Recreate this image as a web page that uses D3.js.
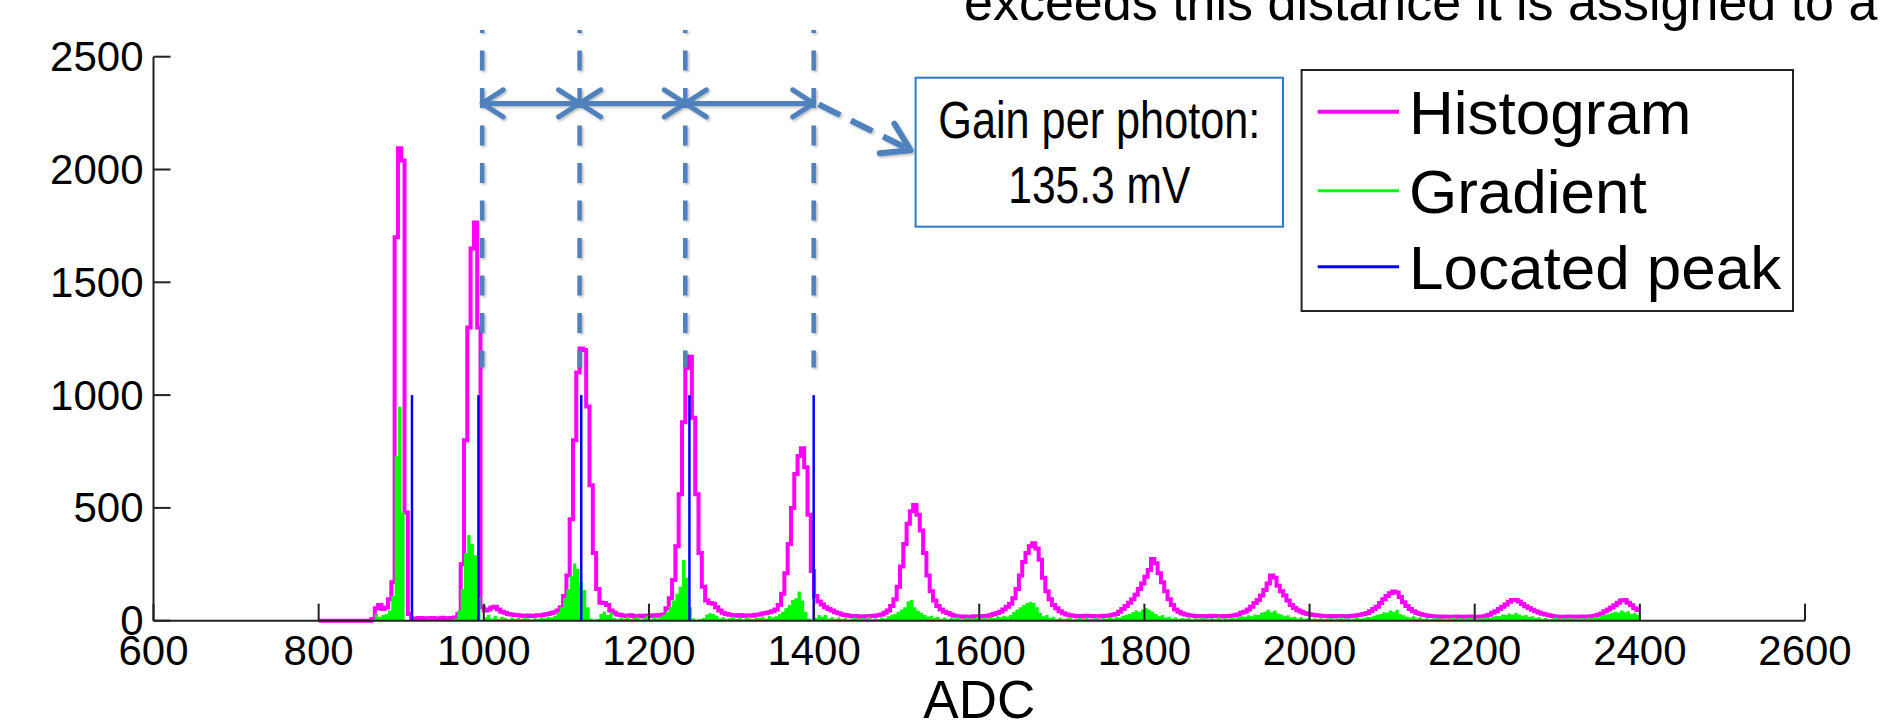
<!DOCTYPE html>
<html>
<head>
<meta charset="utf-8">
<script src="https://cdn.jsdelivr.net/npm/d3@7"></script>
<style>
  html, body { margin: 0; padding: 0; background: #fff; overflow: hidden; }
  svg { display: block; font-family: "Liberation Sans", Arial, Helvetica, sans-serif; }
</style>
</head>
<body>
<svg id="chart" width="1882" height="723"></svg>
<script>
// ---- Data ---------------------------------------------------------------
// Histogram bins: 4 ADC wide, starting at ADC 800 (ten bins = 40 ADC per row)
const binStart = 800;
const binWidth = 4;

const histCounts = [
  0,0,0,0,0,0,0,0,0,0,                       // 800
  0,0,0,0,0,0,8,55,70,52,                    // 840
  58,95,170,1700,2094,2040,480,30,10,8,      // 880
  12,9,11,10,12,9,10,13,11,10,               // 920
  12,14,30,250,800,1300,1650,1765,1300,60,   // 960
  45,50,58,62,50,40,35,30,28,25,             // 1000
  24,22,20,23,21,22,24,24,28,30,             // 1040
  34,38,45,60,110,200,450,800,1100,1207,     // 1080
  1200,950,600,300,140,80,78,70,45,35,       // 1120
  28,25,22,20,24,21,19,22,20,23,             // 1160
  21,24,22,25,28,55,100,180,330,560,         // 1200
  880,1120,1170,900,560,300,150,90,78,75,    // 1240
  60,45,35,30,26,24,22,25,21,23,             // 1280
  24,22,26,28,32,34,38,42,50,70,             // 1320
  120,210,340,500,650,730,764,680,470,220,   // 1360
  110,85,72,60,52,45,38,33,28,25,            // 1400
  22,20,21,19,18,20,19,21,22,24,             // 1440
  28,35,45,65,95,150,240,340,430,485,        // 1480
  513,470,400,300,200,130,90,65,50,40,       // 1520
  34,28,22,20,18,19,17,18,20,18,             // 1560
  19,21,20,24,30,34,40,50,62,75,             // 1600
  100,140,200,260,300,330,343,320,270,190,   // 1640
  130,95,70,55,42,33,27,24,22,20,            // 1680
  21,19,22,20,21,19,20,22,21,23,             // 1720
  26,30,40,52,65,80,95,115,140,165,          // 1760
  195,225,274,255,210,170,130,95,70,50,      // 1800
  40,32,27,24,22,21,20,21,19,20,             // 1840
  22,21,20,19,21,20,22,24,28,35,             // 1880
  40,50,62,78,92,112,136,165,200,190,        // 1920
  155,130,112,90,70,56,46,40,34,30,          // 1960
  27,25,23,22,21,20,21,19,20,21,             // 2000
  20,19,21,22,24,26,30,34,42,52,             // 2040
  62,78,95,110,122,129,125,105,82,65,        // 2080
  52,42,35,30,26,23,21,20,19,18,             // 2120
  19,18,17,18,19,18,17,18,19,18,             // 2160
  17,18,19,22,26,35,42,52,62,72,             // 2200
  84,92,92,85,74,64,56,49,42,36,             // 2240
  31,27,24,21,19,18,17,18,19,18,             // 2280
  17,18,19,18,19,20,22,26,32,42,             // 2320
  50,58,68,80,90,92,80,68,55,47              // 2360
];

const gradientCounts = [
  0,0,0,0,0,0,0,0,0,0,                       // 800
  0,0,0,0,0,0,5,30,18,25,                    // 840
  30,45,110,730,948,480,0,0,2,0,             // 880
  3,0,2,4,1,0,3,2,0,4,                       // 920
  5,10,45,140,300,380,340,290,110,0,         // 960
  15,25,10,22,8,18,12,6,14,9,                // 1000
  12,7,16,10,5,13,8,15,11,18,                // 1040
  14,22,35,60,100,140,200,254,230,170,       // 1080
  136,60,10,4,8,30,40,25,38,12,              // 1120
  6,14,9,18,7,12,16,5,11,20,                 // 1160
  8,15,10,18,25,40,62,90,120,150,            // 1200
  269,190,60,10,4,8,12,28,33,30,             // 1240
  22,10,15,6,12,18,8,14,5,16,                // 1280
  10,7,15,12,18,9,22,15,20,30,               // 1320
  40,55,70,92,100,129,90,40,10,4,            // 1360
  12,25,18,25,10,15,8,14,6,12,               // 1400
  5,10,14,7,12,9,16,6,11,8,                  // 1440
  14,10,20,26,30,40,50,60,85,92,             // 1480
  60,45,35,25,18,22,12,18,8,14,              // 1520
  6,12,9,15,5,10,13,7,11,16,                 // 1560
  8,14,10,17,12,20,15,22,18,25,              // 1600
  40,50,60,70,78,84,80,60,35,20,             // 1640
  25,12,18,8,14,6,11,15,5,9,                 // 1680
  12,6,14,8,10,15,7,12,9,16,                 // 1720
  10,18,14,22,26,30,38,45,40,50,             // 1760
  55,48,40,30,20,25,14,18,10,15,             // 1800
  7,12,9,14,6,11,8,13,10,6,                  // 1840
  12,8,15,6,11,9,14,10,16,20,                // 1880
  18,24,20,28,25,35,40,48,38,45,             // 1920
  32,28,20,24,14,18,10,15,8,12,              // 1960
  6,11,8,13,7,10,12,6,9,14,                  // 2000
  8,12,6,10,15,9,13,18,16,22,                // 2040
  26,30,38,35,45,40,48,30,24,18,             // 2080
  14,20,10,15,8,12,6,10,13,7,                // 2120
  11,6,9,14,8,12,7,10,13,9,                  // 2160
  6,11,9,14,12,18,22,20,28,25,               // 2200
  32,26,35,28,22,25,16,20,12,15,             // 2240
  8,12,6,10,14,7,11,9,13,8,                  // 2280
  10,6,12,9,15,11,18,14,22,26,               // 2320
  30,34,40,36,45,38,42,30,35,25              // 2360
];

// Peak positions found by the algorithm, drawn as fixed-height markers
const peakAdc = [913, 993.5, 1118, 1249, 1399.5];
const peakMarkerHeight = 1000;

// Photon-peak spacing guides (ADC) and the gain they give
const spacingAdc = [998, 1116, 1244, 1399.5];
const guideRange = [1122, 2618];   // vertical extent of the guides, in counts
const arrowLevel = 2293;           // height of the spacing arrows, in counts
const gainLines = ["Gain per photon:", "135.3 mV"];

const xTicks = [600, 800, 1000, 1200, 1400, 1600, 1800, 2000, 2200, 2400, 2600];
const yTicks = [0, 500, 1000, 1500, 2000, 2500];

const legendLabels = ["Histogram", "Gradient", "Located peak"];
const legendColors = ["#ff00ff", "#00ff00", "#0000ff"];
const legendWidths = [4, 3, 3];

const noteText = "exceeds this distance it is assigned to a";

// ---- Layout -------------------------------------------------------------
const svg = d3.select("#chart");
const x = d3.scaleLinear().domain([600, 2600]).range([153.5, 1805]);
const y = d3.scaleLinear().domain([0, 2500]).range([620.7, 56.7]);

const defs = svg.append("defs");
defs.append("filter").attr("id", "shade")
  .attr("x", "-20%").attr("y", "-20%").attr("width", "140%").attr("height", "140%")
  .append("feDropShadow")
  .attr("dx", 1.5).attr("dy", 1.5).attr("stdDeviation", 1.2)
  .attr("flood-color", "#000").attr("flood-opacity", 0.28);

// Heading text running off the top of the slide
svg.append("text")
  .attr("x", 964).attr("y", 20)
  .attr("font-size", 52).attr("fill", "#000")
  .text(noteText);

// ---- Series -------------------------------------------------------------
const binned = counts => {
  const pts = counts.map((c, i) => [binStart + i * binWidth, c]);
  pts.push([binStart + counts.length * binWidth, counts[counts.length - 1]]);
  return pts;
};

const histLine = d3.line()
  .x(d => x(d[0])).y(d => y(d[1]))
  .curve(d3.curveStepAfter);

svg.append("path")
  .datum(binned(histCounts))
  .attr("d", histLine)
  .attr("fill", "none")
  .attr("stroke", "#ff00ff")
  .attr("stroke-width", 4)
  .attr("stroke-linejoin", "miter");

const gradArea = d3.area()
  .x(d => x(d[0])).y0(y(0)).y1(d => y(d[1]))
  .curve(d3.curveStepAfter);

svg.append("path")
  .datum(binned(gradientCounts))
  .attr("d", gradArea)
  .attr("fill", "#00ff00")
  .attr("stroke", "none");

svg.append("g").selectAll("line")
  .data(peakAdc)
  .join("line")
  .attr("x1", d => x(d)).attr("x2", d => x(d))
  .attr("y1", y(0)).attr("y2", y(peakMarkerHeight))
  .attr("stroke", "#0000ff")
  .attr("stroke-width", 2.5);

// ---- Axes ---------------------------------------------------------------
const axisColor = "#222";
const tickLen = 17;
const axes = svg.append("g").attr("stroke", axisColor).attr("stroke-width", 2);

axes.append("line")
  .attr("x1", x(600)).attr("x2", x(600))
  .attr("y1", y(0)).attr("y2", y(2500));
axes.append("line")
  .attr("x1", x(600)).attr("x2", x(2600))
  .attr("y1", y(0)).attr("y2", y(0));

axes.selectAll("line.ytick").data(yTicks).join("line")
  .attr("class", "ytick")
  .attr("x1", x(600)).attr("x2", x(600) + tickLen)
  .attr("y1", d => y(d)).attr("y2", d => y(d));

axes.selectAll("line.xtick").data(xTicks).join("line")
  .attr("class", "xtick")
  .attr("x1", d => x(d)).attr("x2", d => x(d))
  .attr("y1", y(0)).attr("y2", y(0) - tickLen);

svg.append("g").selectAll("text")
  .data(yTicks).join("text")
  .attr("x", x(600) - 10)
  .attr("y", d => y(d) + 14.5)
  .attr("text-anchor", "end")
  .attr("font-size", 42)
  .text(d => d);

svg.append("g").selectAll("text")
  .data(xTicks).join("text")
  .attr("x", d => x(d))
  .attr("y", y(0) + 44.5)
  .attr("text-anchor", "middle")
  .attr("font-size", 42)
  .text(d => d);

svg.append("text")
  .attr("x", (x(600) + x(2600)) / 2)
  .attr("y", 718)
  .attr("text-anchor", "middle")
  .attr("font-size", 53)
  .text("ADC");

// ---- Gain annotation ----------------------------------------------------
const guideColor = "#4f81bd";
const notes = svg.append("g").attr("filter", "url(#shade)");

notes.selectAll("line.guide").data(spacingAdc).join("line")
  .attr("class", "guide")
  .attr("x1", d => x(d)).attr("x2", d => x(d))
  .attr("y1", y(guideRange[1])).attr("y2", y(guideRange[0]))
  .attr("stroke", guideColor)
  .attr("stroke-width", 4.5)
  .attr("stroke-dasharray", "20 17.5")
  .attr("stroke-dashoffset", 17);

const ay = y(arrowLevel);
const headDx = 21, headDy = 13.5;
const spans = d3.pairs(spacingAdc);
notes.selectAll("path.span").data(spans).join("path")
  .attr("class", "span")
  .attr("d", ([a, b]) => {
    const xa = x(a), xb = x(b);
    return `M${xa},${ay}L${xb},${ay}` +
      `M${xa + headDx},${ay - headDy}L${xa},${ay}L${xa + headDx},${ay + headDy}` +
      `M${xb - headDx},${ay - headDy}L${xb},${ay}L${xb - headDx},${ay + headDy}`;
  })
  .attr("fill", "none")
  .attr("stroke", guideColor)
  .attr("stroke-width", 5)
  .attr("stroke-linecap", "round")
  .attr("stroke-linejoin", "round");

// Callout box
const box = { left: 915.6, top: 77.7, width: 367.4, height: 149 };
svg.append("rect")
  .attr("x", box.left).attr("y", box.top)
  .attr("width", box.width).attr("height", box.height)
  .attr("fill", "#fff")
  .attr("stroke", "#2b7bc9")
  .attr("stroke-width", 2);

const boxCx = box.left + box.width / 2;
const gainText = svg.append("g")
  .attr("font-family", "'Liberation Sans Narrow', 'Liberation Sans', Arial, sans-serif")
  .attr("font-size", 51)
  .attr("text-anchor", "middle");
gainText.append("text")
  .attr("x", boxCx).attr("y", 138.3)
  .attr("textLength", 322).attr("lengthAdjust", "spacingAndGlyphs")
  .text(gainLines[0]);
gainText.append("text")
  .attr("x", boxCx).attr("y", 203.3)
  .attr("textLength", 182).attr("lengthAdjust", "spacingAndGlyphs")
  .text(gainLines[1]);

// Dashed pointer from the last guide to the callout
const start = [x(spacingAdc[3]) + 5, ay + 1];
const tip = [box.left - 5, box.top + box.height / 2 - 2];
const ang = Math.atan2(tip[1] - start[1], tip[0] - start[0]);
const armLen = 31, armAng = 32 * Math.PI / 180;
const arm = s => [tip[0] - armLen * Math.cos(ang + s * armAng), tip[1] - armLen * Math.sin(ang + s * armAng)];
notes.append("line")
  .attr("x1", start[0]).attr("y1", start[1])
  .attr("x2", tip[0] - 4 * Math.cos(ang)).attr("y2", tip[1] - 4 * Math.sin(ang))
  .attr("stroke", guideColor)
  .attr("stroke-width", 6)
  .attr("stroke-dasharray", "24 12");
notes.append("path")
  .attr("d", `M${arm(1)}L${tip}L${arm(-1)}`)
  .attr("fill", "none")
  .attr("stroke", guideColor)
  .attr("stroke-width", 6)
  .attr("stroke-linecap", "round")
  .attr("stroke-linejoin", "round");

// ---- Legend -------------------------------------------------------------
const legend = { left: 1301.6, top: 70, width: 491.4, height: 241 };
const lg = svg.append("g");
lg.append("rect")
  .attr("x", legend.left).attr("y", legend.top)
  .attr("width", legend.width).attr("height", legend.height)
  .attr("fill", "#fff")
  .attr("stroke", "#222")
  .attr("stroke-width", 2);

const rowY = [111.7, 190.7, 266.7];
legendLabels.forEach((label, i) => {
  lg.append("line")
    .attr("x1", 1317.7).attr("x2", 1399)
    .attr("y1", rowY[i]).attr("y2", rowY[i])
    .attr("stroke", legendColors[i])
    .attr("stroke-width", legendWidths[i]);
  lg.append("text")
    .attr("x", 1409).attr("y", rowY[i] + 22.5)
    .attr("font-size", 62)
    .text(label);
});
</script>
</body>
</html>
